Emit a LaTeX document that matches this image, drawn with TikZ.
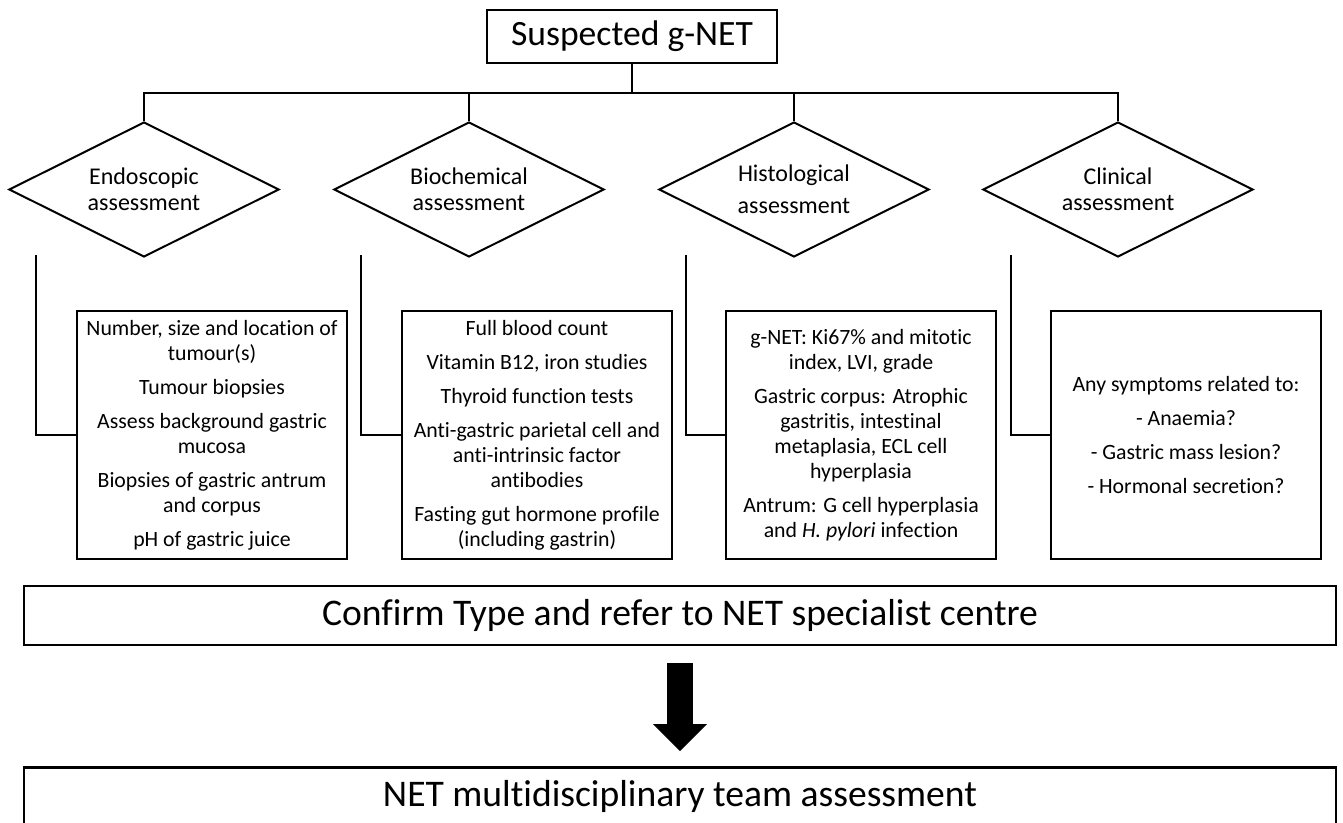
\documentclass[tikz,border=0pt]{standalone}
\usepackage{fontspec}
\setmainfont{Carlito}[Ligatures=NoCommon]
\usetikzlibrary{positioning, arrows.meta, shapes.geometric}

\begin{document}
\begin{tikzpicture}[
    x=0.5pt, y=-0.5pt,
    font=\fontsize{10.9pt}{12.5pt}\selectfont,
    title/.style={
        draw,
        rectangle,
        line width=1pt,
        inner sep=0pt,
        minimum width=145pt,
        minimum height=26.5pt,
        font=\fontsize{17.8pt}{21pt}\selectfont
    },
    assess/.style={
        diamond,
        draw,
        aspect=2,
        line width=1pt,
        inner sep=1pt,
        minimum width=135pt,
        minimum height=67.5pt,
        align=center,
        font=\fontsize{12pt}{13pt}\selectfont
    },
    detail/.style={
        draw,
        rectangle,
        line width=1.25pt,
        inner sep=2pt,
        minimum width=135pt,
        minimum height=124pt,
        align=center
    },
    wide/.style={
        draw,
        rectangle,
        line width=1.2pt,
        inner sep=0pt,
        minimum width=656pt,
        minimum height=29.5pt,
        font=\fontsize{18.8pt}{22pt}\selectfont
    },
    link/.style={
        draw,
        line width=0.7pt
    },
    bigarrow/.style={
        draw,
        line width=13pt,
        -{Triangle[length=13.5pt, width=27pt, line width=0pt]}
    }
]
\useasboundingbox (0,0) rectangle (1343,823);
\clip (0,0) rectangle (1343,823);

% 1. Entry point
\node[title] (suspect) at (632,36.5) {Suspected g-NET};
\coordinate (bus) at (0,93);

% 2. Assessment branches
\node[assess] (endo) at (144,189.5) {Endoscopic\\assessment};
\node[assess] (bio) at (469,189.5) {Biochemical\\assessment};
\node[assess] (histo) at (794,189.5) {Histological\\[3pt]assessment};
\node[assess] (clin) at (1118,189.5) {Clinical\\assessment};

\draw[link] (suspect.south) -- (suspect.south |- bus);
\draw[link] (endo.north) -- (endo.north |- bus) -| (clin.north);
\draw[link] (bio.north) -- (bio.north |- bus);
\draw[link] (histo.north) -- (histo.north |- bus);

% 3. Work-up per branch
\node[detail] (endo_box) at (212,435) {Number, size and location of\\tumour(s)\\[4.5pt]
    Tumour biopsies\\[4.5pt]
    Assess background gastric\\mucosa\\[4.5pt]
    Biopsies of gastric antrum\\and corpus\\[4.5pt]
    pH of gastric juice};
\node[detail] (bio_box) at (537,435) {Full blood count\\[4.5pt]
    Vitamin B12, iron studies\\[4.5pt]
    Thyroid function tests\\[4.5pt]
    Anti-gastric parietal cell and\\anti-intrinsic factor\\antibodies\\[4.5pt]
    Fasting gut hormone profile\\(including gastrin)};
\node[detail] (histo_box) at (861,435) {g-NET: Ki67\% and mitotic\\index, LVI, grade\\[4.5pt]
    Gastric corpus: Atrophic\\gastritis, intestinal\\metaplasia, ECL cell\\hyperplasia\\[4.5pt]
    Antrum: G cell hyperplasia\\and \textit{H. pylori} infection};
\node[detail] (clin_box) at (1186,435) {Any symptoms related to:\\[4.5pt]
    - Anaemia?\\[4.5pt]
    - Gastric mass lesion?\\[4.5pt]
    - Hormonal secretion?};

\coordinate (endo_in) at (36,255);
\coordinate (bio_in) at (361,255);
\coordinate (histo_in) at (686,255);
\coordinate (clin_in) at (1011,255);

\draw[link] (endo_in) |- (endo_box.west);
\draw[link] (bio_in) |- (bio_box.west);
\draw[link] (histo_in) |- (histo_box.west);
\draw[link] (clin_in) |- (clin_box.west);

% 4. Referral
\node[wide] (confirm) at (680,615.5) {Confirm Type and refer to NET specialist centre};
\node[wide, below=60pt of confirm] (mdt) {NET multidisciplinary team assessment};

\draw[bigarrow] ([yshift=-8.5pt]confirm.south) -- ([yshift=7.5pt]mdt.north);

\end{tikzpicture}
\end{document}
